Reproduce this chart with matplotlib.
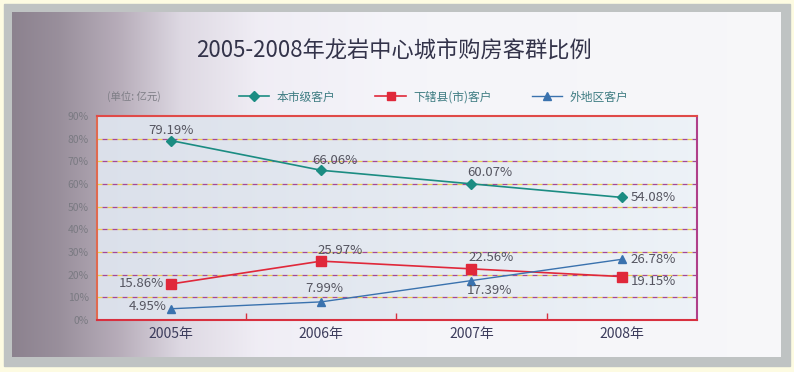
import numpy as np
import matplotlib
matplotlib.use('Agg')
import matplotlib.pyplot as plt
from matplotlib.patches import Rectangle

plt.rcParams['font.family'] = ['Noto Sans CJK SC', 'DejaVu Sans']

# data
years = ['2005年', '2006年', '2007年', '2008年']
local_city = [79.19, 66.06, 60.07, 54.08]      # 本市级客户
sub_county = [15.86, 25.97, 22.56, 19.15]      # 下辖县(市)客户
other_region = [4.95, 7.99, 17.39, 26.78]      # 外地区客户
y_ticks = [0, 10, 20, 30, 40, 50, 60, 70, 80, 90]

W, H = 794, 372
fig = plt.figure(figsize=(W / 100, H / 100), dpi=100)

# background: yellow margin, grey frame, panel with grey-mauve gradient on the left
bg = fig.add_axes([0, 0, 1, 1], zorder=-10)
bg.axis('off')
bg.add_patch(Rectangle((0, 0), W, H, color='#fdfbe2', zorder=0))
bg.add_patch(Rectangle((4, 4), 786, 362, color='#bfc3c3', zorder=1))
xs = np.linspace(0, 1, 400)
anchors = [0, 0.06, 0.14, 0.22, 0.32, 0.5, 1]
r = np.interp(xs, anchors, [0.55, 0.60, 0.72, 0.87, 0.94, 0.96, 0.97])
g = np.interp(xs, anchors, [0.51, 0.56, 0.68, 0.85, 0.93, 0.96, 0.97])
b = np.interp(xs, anchors, [0.56, 0.61, 0.73, 0.89, 0.96, 0.98, 0.98])
grad = np.dstack([r, g, b])
bg.imshow(grad, extent=(12, 781, 357, 12), aspect='auto', interpolation='bilinear', zorder=2)
bg.set_xlim(0, W)
bg.set_ylim(H, 0)

# title and unit label
fig.text(394 / W, 1 - 50 / H, '2005-2008年龙岩中心城市购房客群比例', ha='center', va='center',
         fontsize=16, color='#33334a')
fig.text(107 / W, 1 - 97 / H, '(单位: 亿元)', ha='left', va='center', fontsize=7.5, color='#7e7e86')

# plot area
left, right, top, bottom = 97, 697, 116, 320
ax = fig.add_axes([left / W, 1 - bottom / H, (right - left) / W, (bottom - top) / H])
ax.imshow(np.dstack([np.interp(xs, [0, 1], [0.86, 0.93]),
                     np.interp(xs, [0, 1], [0.88, 0.95]),
                     np.interp(xs, [0, 1], [0.92, 0.97])]),
          extent=(0, 1, 0, 1), transform=ax.transAxes, aspect='auto', zorder=0)

x = np.arange(len(years))
ax.set_xlim(-0.49, 3.5)
ax.set_ylim(0, 90)

# dashed grid, purple dashes with yellow in the gaps
for yv in y_ticks[1:-1]:
    ax.axhline(yv, color='#ecd04a', lw=0.9, ls=(0, (4, 4)), zorder=1)
    ax.axhline(yv, color='#a44896', lw=0.9, ls=(4, (4, 4)), zorder=1)

ax.plot(x, local_city, color='#1b8c82', lw=1.2, marker='D', ms=5.5, zorder=3, label='本市级客户')
ax.plot(x, sub_county, color='#e0283a', lw=1.2, marker='s', ms=6.5, zorder=3, label='下辖县(市)客户')
ax.plot(x, other_region, color='#3a72ae', lw=1.0, marker='^', ms=6, zorder=3, label='外地区客户')

lab = dict(textcoords='offset pixels', fontsize=9.5, color='#555560', va='center', zorder=4)
fmt = '{:.2f}%'
# 本市级客户 labels
ax.annotate(fmt.format(local_city[0]), (x[0], local_city[0]), xytext=(0, 10), ha='center', **lab)
ax.annotate(fmt.format(local_city[1]), (x[1], local_city[1]), xytext=(14, 10), ha='center', **lab)
ax.annotate(fmt.format(local_city[2]), (x[2], local_city[2]), xytext=(-4, 11), ha='left', **lab)
ax.annotate(fmt.format(local_city[3]), (x[3], local_city[3]), xytext=(9, 0), ha='left', **lab)
# 下辖县(市)客户 labels
ax.annotate(fmt.format(sub_county[0]), (x[0], sub_county[0]), xytext=(-7, 1), ha='right', **lab)
ax.annotate(fmt.format(sub_county[1]), (x[1], sub_county[1]), xytext=(-4, 11), ha='left', **lab)
ax.annotate(fmt.format(sub_county[2]), (x[2], sub_county[2]), xytext=(-3, 11), ha='left', **lab)
ax.annotate(fmt.format(sub_county[3]), (x[3], sub_county[3]), xytext=(9, -5), ha='left', **lab)
# 外地区客户 labels
ax.annotate(fmt.format(other_region[0]), (x[0], other_region[0]), xytext=(-4, 2), ha='right', **lab)
ax.annotate(fmt.format(other_region[1]), (x[1], other_region[1]), xytext=(3, 13), ha='center', **lab)
ax.annotate(fmt.format(other_region[2]), (x[2], other_region[2]), xytext=(-5, -10), ha='left', **lab)
ax.annotate(fmt.format(other_region[3]), (x[3], other_region[3]), xytext=(9, 0), ha='left', **lab)

# axes styling
ax.set_xticks(x)
ax.set_xticklabels(years, fontsize=10, color='#3c3c5c')
ax.set_xticks([0.5, 1.5, 2.5], minor=True)
ax.tick_params(axis='x', which='major', length=0, pad=5)
ax.tick_params(axis='x', which='minor', direction='in', length=5, color='#d83040', width=1)
ax.set_yticks(y_ticks)
ax.set_yticklabels([f'{v}%' for v in y_ticks], fontsize=7.5, color='#7a7a82')
ax.tick_params(axis='y', length=0, pad=6)

ax.spines['bottom'].set_color('#d8303f')
ax.spines['left'].set_color('#e06a50')
ax.spines['top'].set_color('#e04a48')
ax.spines['right'].set_color('#b0408a')
for s in ax.spines.values():
    s.set_linewidth(1.5)
    s.set_zorder(5)

fig.legend(loc='center left', bbox_to_anchor=(228 / W, 1 - 97 / H), ncol=3, frameon=False,
           fontsize=8.5, handlelength=2.6, handletextpad=0.6, columnspacing=3.4,
           labelcolor='#3e7c82', markerscale=0.85)

fig.savefig('out.png', dpi=100)
